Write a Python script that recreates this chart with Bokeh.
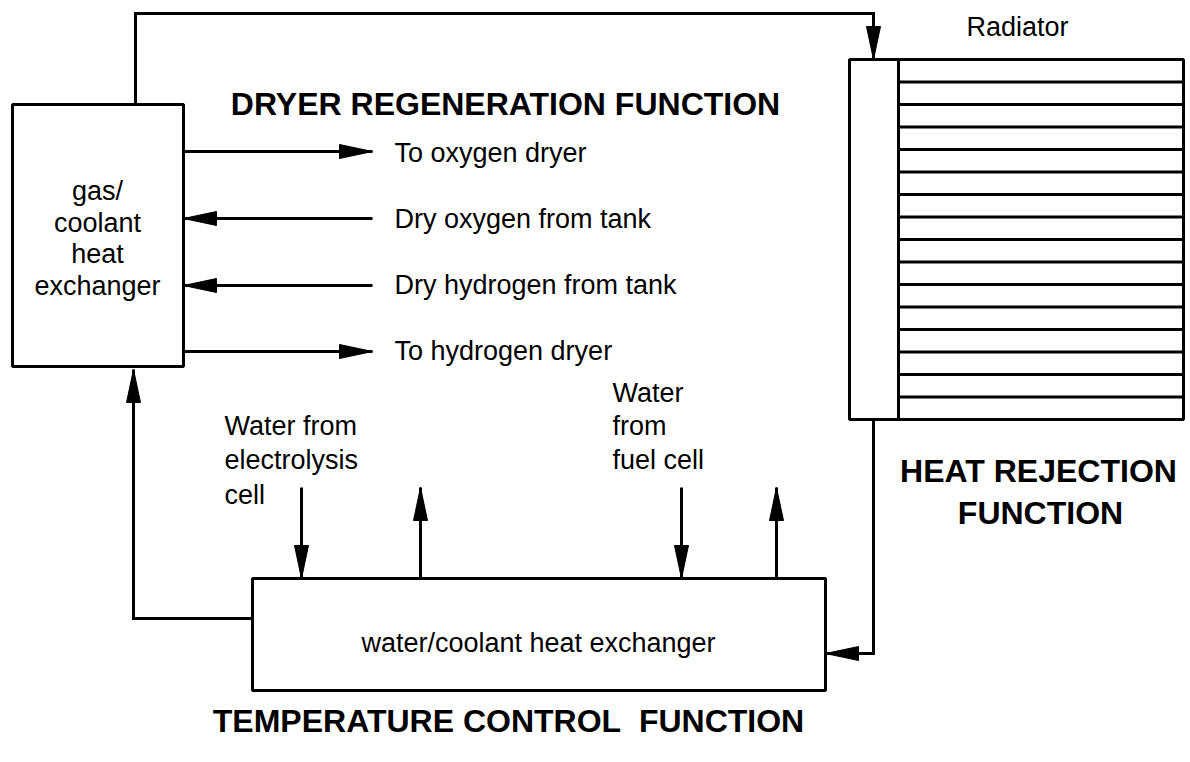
from bokeh.plotting import figure
from bokeh.models import Range1d
from bokeh.core.properties import value
from bokeh.embed import file_html
from bokeh.resources import INLINE

# ---------------- content (labels) ----------------
function_titles = ["DRYER REGENERATION FUNCTION", "HEAT REJECTION", "FUNCTION",
                   "TEMPERATURE CONTROL\u00a0 FUNCTION"]
gas_hx_lines = ["gas/", "coolant", "heat", "exchanger"]
water_hx_label = ["water/coolant heat exchanger"]
radiator_label = ["Radiator"]
flow_labels = ["To oxygen dryer", "Dry oxygen from tank", "Dry hydrogen from tank", "To hydrogen dryer"]
flow_direction = ["out", "in", "in", "out"]
electrolysis_lines = ["Water from", "electrolysis", "cell"]
fuelcell_lines = ["Water", "from", "fuel cell"]
radiator_fin_count = 16

# ---------------- layout (page pixel frame) ----------------
gas_box = dict(left=12, right=183, top=104, bottom=366)
water_box = dict(left=252, right=825, top=578, bottom=690)
rad_box = dict(left=849, right=1183, top=59, bottom=419)
rad_divider = 898
flow_y = [151, 218, 285, 351]
flow_text_y = [152, 218, 284, 350]
flow_tip_x = 372
flow_text_x = 394

FONT = "Liberation Sans"
LW = 3

p = figure(width=1190, height=762, x_range=Range1d(0, 1190), y_range=Range1d(762, 0),
           output_backend="svg", toolbar_location=None, min_border=0,
           x_axis_location=None, y_axis_location=None)
p.grid.visible = False
p.outline_line_color = None
p.background_fill_color = "white"
p.border_fill_color = "white"

HEAD_L, HEAD_W = 33, 7


def head(tip, frm):
    (tx, ty), (fx, fy) = tip, frm
    dx, dy = tx - fx, ty - fy
    n = (dx * dx + dy * dy) ** 0.5
    ux, uy = dx / n, dy / n
    bx, by = tx - ux * HEAD_L, ty - uy * HEAD_L
    px, py = -uy * HEAD_W, ux * HEAD_W
    return [tx, bx + px, bx - px], [ty, by + py, by - py]


paths = []
heads = []

# top loop: gas exchanger -> radiator
top_path = [(135, gas_box["top"]), (135, 13), (873, 13), (873, rad_box["top"])]
paths.append(top_path)
heads.append((top_path[-1], top_path[-2]))

# flows at gas exchanger
for y, d in zip(flow_y, flow_direction):
    if d == "out":
        seg = [(gas_box["right"], y), (flow_tip_x, y)]
    else:
        seg = [(flow_tip_x, y), (gas_box["right"], y)]
    paths.append(seg)
    heads.append((seg[-1], seg[-2]))

# return from water exchanger to gas exchanger
ret = [(water_box["left"], 618), (133, 618), (133, gas_box["bottom"] + 3)]
paths.append(ret)
heads.append((ret[-1], ret[-2]))

# radiator -> water exchanger
rr = [(873, rad_box["bottom"]), (873, 653), (water_box["right"], 653)]
paths.append(rr)
heads.append((rr[-1], rr[-2]))

# water connections on top of water exchanger
for x, d in [(301, "down"), (420, "up"), (681, "down"), (776, "up")]:
    if d == "down":
        seg = [(x, 487), (x, water_box["top"])]
    else:
        seg = [(x, water_box["top"]), (x, 487)]
    paths.append(seg)
    heads.append((seg[-1], seg[-2]))

p.multi_line(xs=[[a for a, b in pth] for pth in paths], ys=[[b for a, b in pth] for pth in paths],
             line_color="black", line_width=3, line_join="miter")

hx, hy = zip(*[head(t, f) for t, f in heads])
p.patches(xs=list(hx), ys=list(hy), fill_color="black", line_color="black", line_width=1)

# boxes
for b in (gas_box, water_box, rad_box):
    p.quad(left=b["left"], right=b["right"], top=b["top"], bottom=b["bottom"],
           fill_color="white", line_color="black", line_width=LW)

# radiator internals
p.segment(x0=rad_divider, y0=rad_box["top"], x1=rad_divider, y1=rad_box["bottom"],
          line_color="black", line_width=LW)
step = (rad_box["bottom"] - rad_box["top"]) / radiator_fin_count
fin_y = [rad_box["top"] + k * step for k in range(1, radiator_fin_count)]
p.segment(x0=[rad_divider] * len(fin_y), y0=fin_y, x1=[rad_box["right"]] * len(fin_y), y1=fin_y,
          line_color="black", line_width=2.8)


def txt(x, y, s, size=27, bold=False, align="left"):
    p.text(x=x, y=y, text=s, text_font=value(FONT), text_font_size=value(f"{size}px"),
           text_font_style="bold" if bold else "normal", text_align=align,
           text_baseline="alphabetic", text_color="black")


# titles
txt([505], [103], [function_titles[0]], 32, True, "center")
txt([1038, 1040], [470, 512], function_titles[1:3], 32, True, "center")
txt([508], [720], [function_titles[3]], 32, True, "center")

# labels
txt([97] * 4, [190, 222, 253, 285], gas_hx_lines, align="center")
txt([538], [642], water_hx_label, align="center")
txt([1017], [26], radiator_label, align="center")
txt([flow_text_x] * 4, flow_text_y, flow_labels)
txt([224] * 3, [425, 459, 494], electrolysis_lines)
txt([612] * 3, [392, 425, 459], fuelcell_lines)

open("out.html", "w").write(file_html(p, INLINE))
